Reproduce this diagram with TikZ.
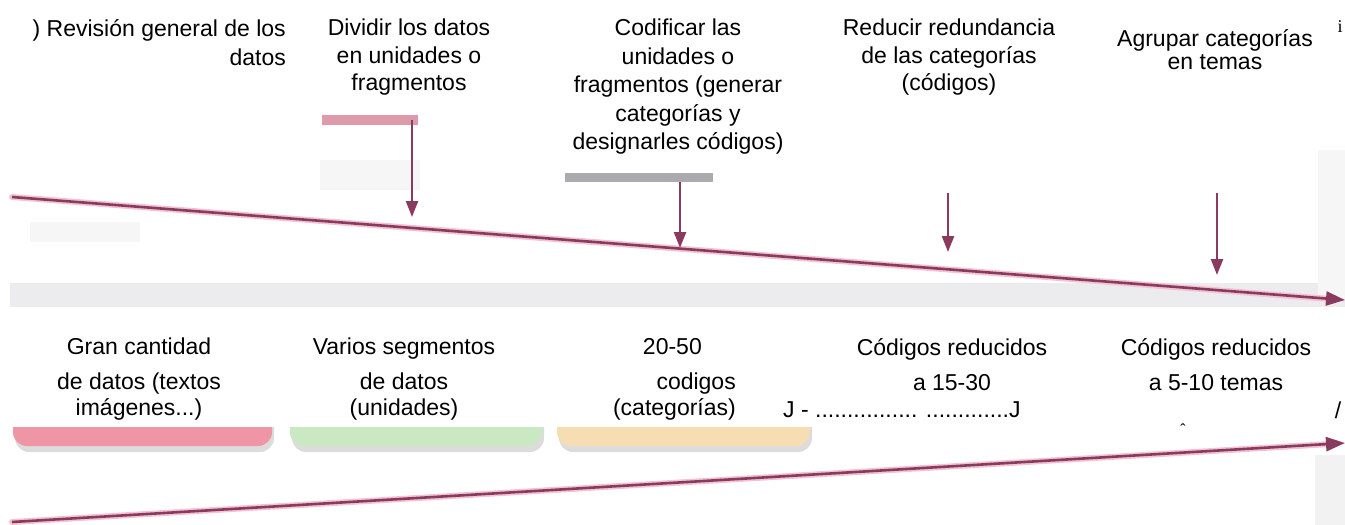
\documentclass[tikz,border=0pt]{standalone}
\usepackage{fontspec}
\setmainfont{Liberation Sans}
\newfontfamily\serifi{Liberation Serif}
\usetikzlibrary{arrows.meta}
\definecolor{arr}{RGB}{138,58,94}
\definecolor{glow}{RGB}{242,196,210}
\definecolor{boxpink}{RGB}{238,150,166}
\definecolor{boxgreen}{RGB}{202,233,194}
\definecolor{boxorange}{RGB}{247,222,178}
\definecolor{smudge}{RGB}{236,236,238}
\definecolor{pinkbar}{RGB}{214,128,150}
\definecolor{greybar}{RGB}{150,150,155}
\begin{document}
\begin{tikzpicture}[x=1pt,y=-1pt,
  toptext/.style={inner sep=0pt, font=\fontsize{23}{28.5}\selectfont, align=center, anchor=north},
  bottext/.style={inner sep=0pt, font=\fontsize{23}{26}\selectfont, align=center, anchor=north},
  flow/.style={arr, line width=2.6pt, -{Triangle[length=19pt,width=14pt]}},
  flowglow/.style={glow, line width=6pt, line cap=round},
  drop/.style={arr, line width=2.4pt, -{Triangle[length=16pt,width=12pt]}},
  shadowbox/.style={fill=gray!45, rounded corners=14pt, opacity=0.6},
]
\useasboundingbox (0,0) rectangle (1345,525);
\fill[white] (0,0) rectangle (1345,525);

% faint scanned background
\fill[smudge] (10,283) rectangle (1345,307);
\fill[smudge!50] (320,160) rectangle (420,190);
\fill[smudge!50] (30,222) rectangle (140,242);
\fill[smudge!45] (1318,150) rectangle (1345,300);
\fill[smudge!70] (1315,455) rectangle (1345,525);

% coloured boxes (partly hidden)
\fill[shadowbox] (15,395) rectangle (274,452);
\fill[boxpink, rounded corners=14pt] (13,390) rectangle (272,446);
\fill[shadowbox] (292,395) rectangle (544,452);
\fill[boxgreen, rounded corners=14pt] (290,390) rectangle (542,446);
\fill[shadowbox] (559,395) rectangle (812,452);
\fill[boxorange, rounded corners=14pt] (557,390) rectangle (810,446);

% white band of the lower texts
\fill[white] (0,307) rectangle (1345,427);

% smudge bars above the first two arrows
\fill[pinkbar, opacity=0.8] (322,115) rectangle (418,125);
\fill[greybar, opacity=0.8] (565,173) rectangle (713,182);

% top texts
\node[toptext, align=right, anchor=north east, font=\fontsize{23}{29}\selectfont] (t1) at (286,19) {) Revisión general de los\\datos};
\node[toptext, font=\fontsize{23}{27.5}\selectfont] (t2) at (409,19) {Dividir los datos\\en unidades o\\fragmentos};
\node[toptext] (t3) at (678,19) {Codificar las\\unidades o\\fragmentos (generar\\categorías y\\designarles códigos)};
\node[toptext, font=\fontsize{23}{27.5}\selectfont] (t4) at (949,19) {Reducir redundancia\\de las categorías\\(códigos)};
\node[toptext, font=\fontsize{23}{23}\selectfont] (t5) at (1215,29) {Agrupar categorías\\en temas};
\node[inner sep=0pt, font=\serifi\fontsize{18}{18}\selectfont] (ti) at (1340,27) {i};

% bottom texts
\node[bottext] (b1) at (139,338) {Gran cantidad\\[9pt]de datos (textos\\imágenes...)};
\node[bottext] (b2) at (404,338) {Varios segmentos\\[9pt]de datos\\(unidades)};
\node[bottext, align=right, anchor=north east] (b3) at (736,338) {20-50\hspace*{34pt}\\[9pt]codigos\\(categorías)};
\node[bottext] (b4) at (952,338) {Códigos reducidos\\[9pt]a 15-30};
\node[bottext, anchor=west] (b4d) at (783,410) {J - ................ .............J};
\node[bottext] (b5) at (1216,338) {Códigos reducidos\\[9pt]a 5-10 temas};
\node[bottext, anchor=center] (bs) at (1338,410) {/};
\node[inner sep=0pt, font=\fontsize{16}{16}\selectfont] (caret) at (1183,430) {ˆ};

% main timelines
\coordinate (u0) at (12,197);
\coordinate (u1) at (1345,300);
\coordinate (l0) at (12,522);
\coordinate (l1) at (1345,443);
\draw[flowglow] (u0) -- (1330,299);
\draw[flow] (u0) -- (u1);
\draw[flowglow] (l0) -- (1330,444);
\draw[flow] (l0) -- (l1);

% vertical arrows
\coordinate (d1s) at (412,120); \coordinate (d1e) at (412,217);
\coordinate (d2s) at (680,182); \coordinate (d2e) at (680,248);
\coordinate (d3s) at (948,193); \coordinate (d3e) at (948,252);
\coordinate (d4s) at (1217,193); \coordinate (d4e) at (1217,275);
\foreach \s/\e in {d1s/d1e,d2s/d2e,d3s/d3e,d4s/d4e}{
  \draw[drop] (\s) -- (\e);
}
\end{tikzpicture}
\end{document}
